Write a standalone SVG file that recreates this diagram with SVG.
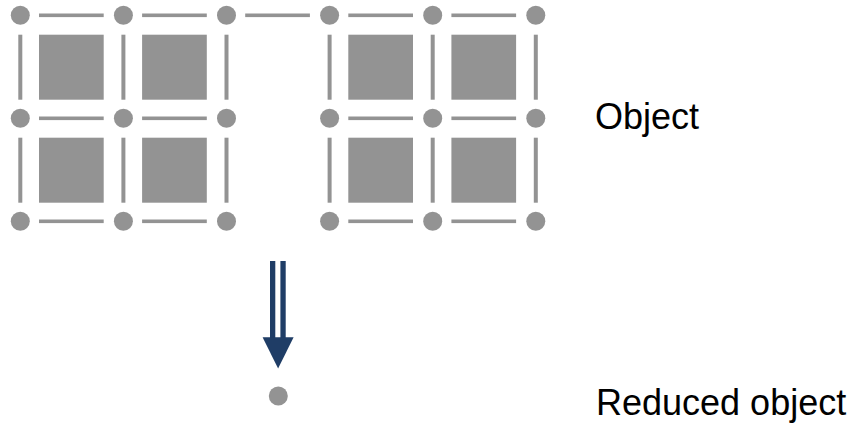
<svg xmlns="http://www.w3.org/2000/svg" xmlns:xlink="http://www.w3.org/1999/xlink" width="861" height="428" viewBox="0 0 861 428">
<style>
.g{fill:#939393}
.lbl{font-family:"Liberation Sans",Arial,sans-serif;font-size:36px;fill:#000}
.arr{fill:#1f3d66}
</style>
<defs>
<circle id="dot" class="g" r="9.5"/>
<rect id="hb" class="g" x="18.7" y="-1.8" width="64.7" height="3.6"/>
<rect id="vb" class="g" x="-2" y="19.4" width="4" height="65"/>
<rect id="sq" class="g" x="18.7" y="19.4" width="64.7" height="65"/>
</defs>
<rect width="861" height="428" fill="#fff"/>
<g id="object-left">
<use xlink:href="#dot" x="20.3" y="15.3"/><use xlink:href="#dot" x="123.4" y="15.3"/><use xlink:href="#dot" x="226.5" y="15.3"/>
<use xlink:href="#dot" x="20.3" y="118.3"/><use xlink:href="#dot" x="123.4" y="118.3"/><use xlink:href="#dot" x="226.5" y="118.3"/>
<use xlink:href="#dot" x="20.3" y="221.3"/><use xlink:href="#dot" x="123.4" y="221.3"/><use xlink:href="#dot" x="226.5" y="221.3"/>
<use xlink:href="#hb" x="20.3" y="15.3"/><use xlink:href="#hb" x="123.4" y="15.3"/>
<use xlink:href="#hb" x="20.3" y="118.3"/><use xlink:href="#hb" x="123.4" y="118.3"/>
<use xlink:href="#hb" x="20.3" y="221.3"/><use xlink:href="#hb" x="123.4" y="221.3"/>
<use xlink:href="#vb" x="20.3" y="15.3"/><use xlink:href="#vb" x="123.4" y="15.3"/><use xlink:href="#vb" x="226.5" y="15.3"/>
<use xlink:href="#vb" x="20.3" y="118.3"/><use xlink:href="#vb" x="123.4" y="118.3"/><use xlink:href="#vb" x="226.5" y="118.3"/>
<use xlink:href="#sq" x="20.3" y="15.3"/><use xlink:href="#sq" x="123.4" y="15.3"/>
<use xlink:href="#sq" x="20.3" y="118.3"/><use xlink:href="#sq" x="123.4" y="118.3"/>
</g>
<g id="object-right">
<use xlink:href="#dot" x="329.6" y="15.3"/><use xlink:href="#dot" x="432.7" y="15.3"/><use xlink:href="#dot" x="535.8" y="15.3"/>
<use xlink:href="#dot" x="329.6" y="118.3"/><use xlink:href="#dot" x="432.7" y="118.3"/><use xlink:href="#dot" x="535.8" y="118.3"/>
<use xlink:href="#dot" x="329.6" y="221.3"/><use xlink:href="#dot" x="432.7" y="221.3"/><use xlink:href="#dot" x="535.8" y="221.3"/>
<use xlink:href="#hb" x="329.6" y="15.3"/><use xlink:href="#hb" x="432.7" y="15.3"/>
<use xlink:href="#hb" x="329.6" y="118.3"/><use xlink:href="#hb" x="432.7" y="118.3"/>
<use xlink:href="#hb" x="329.6" y="221.3"/><use xlink:href="#hb" x="432.7" y="221.3"/>
<use xlink:href="#vb" x="329.6" y="15.3"/><use xlink:href="#vb" x="432.7" y="15.3"/><use xlink:href="#vb" x="535.8" y="15.3"/>
<use xlink:href="#vb" x="329.6" y="118.3"/><use xlink:href="#vb" x="432.7" y="118.3"/><use xlink:href="#vb" x="535.8" y="118.3"/>
<use xlink:href="#sq" x="329.6" y="15.3"/><use xlink:href="#sq" x="432.7" y="15.3"/>
<use xlink:href="#sq" x="329.6" y="118.3"/><use xlink:href="#sq" x="432.7" y="118.3"/>
</g>
<g id="connectors">
<use xlink:href="#hb" x="226.5" y="15.3"/>
<g id="reduce-arrow" class="arr">
<rect x="270" y="261" width="5.3" height="77"/>
<rect x="280.4" y="261" width="5.3" height="77"/>
<polygon points="262.6,337.3 293.6,337.3 278.1,368.5"/>
</g>
</g>
<g id="reduced-object">
<use xlink:href="#dot" x="278.3" y="396"/>
</g>
<g id="labels">
<text class="lbl" x="595" y="129">Object</text>
<text class="lbl" x="596" y="415">Reduced object</text>
</g>
</svg>
